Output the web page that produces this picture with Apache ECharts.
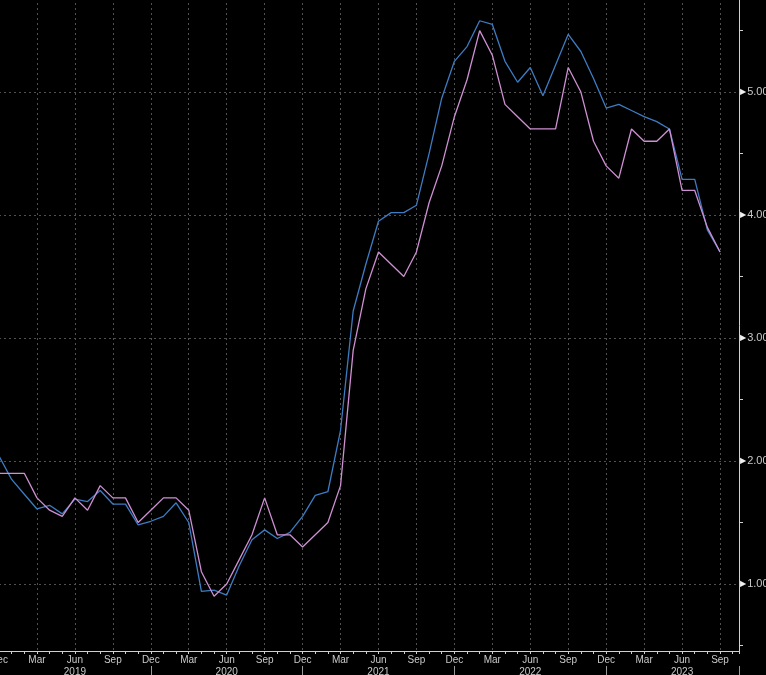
<!DOCTYPE html>
<html>
<head>
<meta charset="utf-8">
<script src="https://cdn.jsdelivr.net/npm/echarts@6/dist/echarts.min.js"></script>
<style>
html,body{margin:0;padding:0;background:#000;}
#chart{width:766px;height:675px;}
</style>
</head>
<body>
<div id="chart"></div>
<script>
// Monthly observations, Dec 2018 .. Sep 2023
const dates = [
 '2018-12','2019-01','2019-02','2019-03','2019-04','2019-05','2019-06','2019-07','2019-08','2019-09','2019-10','2019-11',
 '2019-12','2020-01','2020-02','2020-03','2020-04','2020-05','2020-06','2020-07','2020-08','2020-09','2020-10','2020-11',
 '2020-12','2021-01','2021-02','2021-03','2021-04','2021-05','2021-06','2021-07','2021-08','2021-09','2021-10','2021-11',
 '2021-12','2022-01','2022-02','2022-03','2022-04','2022-05','2022-06','2022-07','2022-08','2022-09','2022-10','2022-11',
 '2022-12','2023-01','2023-02','2023-03','2023-04','2023-05','2023-06','2023-07','2023-08','2023-09'
];
const monthNames = ['Jan','Feb','Mar','Apr','May','Jun','Jul','Aug','Sep','Oct','Nov','Dec'];
const quarterMonths = ['Mar','Jun','Sep','Dec'];
const yearLabelMonth = 'Jun';

const blueSeries = [
 2.04,1.85,1.73,1.61,1.64,1.57,1.69,1.67,1.76,1.65,1.65,1.48,
 1.51,1.55,1.66,1.50,0.94,0.95,0.91,1.15,1.36,1.44,1.37,1.42,
 1.55,1.72,1.75,2.25,3.22,3.60,3.95,4.02,4.02,4.08,4.50,4.95,
 5.25,5.37,5.58,5.55,5.25,5.08,5.20,4.97,5.22,5.47,5.33,5.11,
 4.87,4.90,4.85,4.80,4.76,4.70,4.29,4.29,3.88,3.70
];
const pinkSeries = [
 1.9,1.9,1.9,1.7,1.6,1.55,1.7,1.6,1.8,1.7,1.7,1.5,
 1.6,1.7,1.7,1.6,1.1,0.9,1.0,1.2,1.4,1.7,1.4,1.4,
 1.3,1.4,1.5,1.8,2.9,3.4,3.7,3.6,3.5,3.7,4.1,4.4,
 4.8,5.1,5.5,5.3,4.9,4.8,4.7,4.7,4.7,5.2,5.0,4.6,
 4.4,4.3,4.7,4.6,4.6,4.7,4.2,4.2,3.9,3.7
];

const xMax = dates.length + 0.5;
const yMin = 0.455, yMax = 5.765;

function dateParts(i) {
  const k = Math.round(i);
  if (Math.abs(i - k) > 1e-6 || k < 0) return null;
  const [y0, m0] = dates[0].split('-').map(Number);
  const total = (m0 - 1) + k;
  return { year: y0 + Math.floor(total / 12), month: monthNames[total % 12] };
}

const chart = echarts.init(document.getElementById('chart'), null, {renderer: 'canvas'});
const labelColor = '#c9c9c9';
const gridLine = {show: true, lineStyle: {color: '#505050', type: [2, 3], width: 1}};

chart.setOption({
  backgroundColor: '#000',
  animation: false,
  grid: {left: -1, right: 27, top: -2, bottom: 24, containLabel: false, outerBoundsMode: 'none'},
  xAxis: [
    {
      type: 'value', min: 0, max: xMax, interval: 3,
      axisLine: {show: true, onZero: false, lineStyle: {color: '#d0d0d0', width: 1}},
      axisTick: {show: false},
      splitLine: gridLine,
      axisLabel: {
        color: labelColor, fontFamily: 'Liberation Sans', fontSize: 10, margin: 3, lineHeight: 12,
        showMaxLabel: false, hideOverlap: false,
        formatter: function (v) {
          const p = dateParts(v);
          if (!p || quarterMonths.indexOf(p.month) < 0) return '';
          return p.month === yearLabelMonth ? p.month + '\n' + p.year : p.month;
        }
      }
    },
    {
      type: 'value', min: 0, max: xMax, interval: 1, position: 'bottom',
      axisLine: {show: false, onZero: false},
      axisTick: {show: true, length: 3, lineStyle: {color: '#d0d0d0'}},
      axisLabel: {show: false}, splitLine: {show: false}
    },
    {
      type: 'value', min: 0, max: xMax, interval: 12, position: 'bottom', offset: 15,
      axisLine: {show: false, onZero: false},
      axisTick: {show: true, length: 10, lineStyle: {color: '#9a9a9a'}},
      axisLabel: {show: false}, splitLine: {show: false}
    }
  ],
  yAxis: {
    type: 'value', position: 'right', min: yMin, max: yMax, splitNumber: 5,
    axisLine: {show: true, onZero: false, lineStyle: {color: '#d0d0d0', width: 1}},
    axisTick: {show: false},
    minorTick: {show: true, splitNumber: 2, length: 4, lineStyle: {color: '#d0d0d0'}},
    splitLine: gridLine,
    axisLabel: {
      showMinLabel: false, showMaxLabel: false, margin: 1,
      formatter: function (v) { return '{t|\u25B6}{v|' + v.toFixed(2) + '}'; },
      rich: {
        t: {color: '#f0f0f0', fontSize: 8, fontFamily: 'DejaVu Sans', padding: [0, 1, 0, 0]},
        v: {color: labelColor, fontSize: 11, fontFamily: 'Liberation Sans'}
      }
    }
  },
  series: [
    {
      name: 'blue', type: 'line', xAxisIndex: 0, symbol: 'none',
      lineStyle: {color: '#3d7cc2', width: 1.3},
      data: blueSeries.map((v, i) => [i, v])
    },
    {
      name: 'pink', type: 'line', xAxisIndex: 0, symbol: 'none',
      lineStyle: {color: '#cf8fd3', width: 1.3},
      data: pinkSeries.map((v, i) => [i, v])
    }
  ]
});
</script>
</body>
</html>
